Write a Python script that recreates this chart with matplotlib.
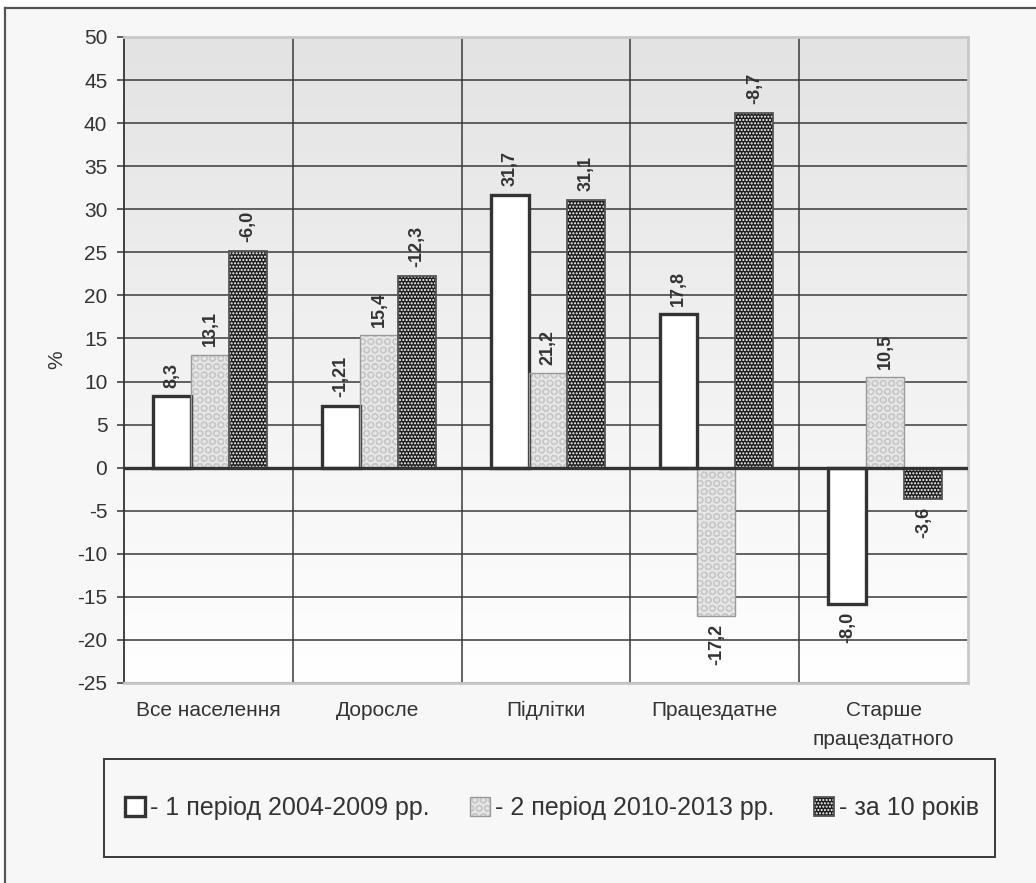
import numpy as np
import matplotlib.pyplot as plt
from matplotlib.colors import LinearSegmentedColormap
from matplotlib.patches import Rectangle, Patch
from matplotlib.lines import Line2D
from matplotlib.legend_handler import HandlerTuple

plt.rcParams['font.family'] = ['Liberation Sans', 'DejaVu Sans']
plt.rcParams['axes.unicode_minus'] = False

groups = ['Все населення', 'Доросле', 'Підлітки', 'Працездатне',
          'Старше\nпрацездатного']
period1 = [8.3, 7.2, 31.7, 17.8, -15.8]
period2 = [13.1, 15.4, 11.0, -17.2, 10.5]
decade = [25.2, 22.3, 31.1, 41.2, -3.6]

# printed values over the bars
period1_txt = ['8,3', '-1,21', '31,7', '17,8', '-8,0']
period2_txt = ['13,1', '15,4', '21,2', '-17,2', '10,5']
decade_txt = ['-6,0', '-12,3', '31,1', '-8,7', '-3,6']

names = ['- 1 період 2004-2009 рр.', '- 2 період 2010-2013 рр.', '- за 10 років']

TXT = '#333333'
W, H = 1036, 883

fig = plt.figure(figsize=(W / 100, H / 100), dpi=100, facecolor='white')

# grey sheet with a dark frame on the left and top
fig.add_artist(Rectangle((5 / W, 0), 1, 1 - 8 / H, transform=fig.transFigure,
                         facecolor='#f7f7f7', edgecolor='none', zorder=-5))
fig.add_artist(Line2D([5 / W, 1], [1 - 8 / H] * 2, transform=fig.transFigure,
                      color='#555555', lw=1.6))
fig.add_artist(Line2D([5 / W] * 2, [0, 1 - 8 / H], transform=fig.transFigure,
                      color='#555555', lw=1.6))

ax = fig.add_axes([124 / W, 1 - 683 / H, 844 / W, 646 / H])
ax.set_facecolor('none')

# vertical grey gradient of the plotting area
grad = LinearSegmentedColormap.from_list('bg', ['#ffffff', '#e3e3e3'])
ax.imshow(np.linspace(0, 1, 256).reshape(-1, 1), extent=(-0.5, 4.5, -25, 50),
          origin='lower', aspect='auto', cmap=grad, zorder=0)

ax.set_xlim(-0.5, 4.5)
ax.set_ylim(-25, 50)
ax.set_yticks(np.arange(-25, 51, 5))
ax.yaxis.grid(True, color='#3a3a3a', lw=1.1, zorder=1)
ax.set_axisbelow(True)
ax.vlines(np.arange(0.5, 4.5, 1), -25, 50, color='#3a3a3a', lw=1.1, zorder=1)

x = np.arange(len(groups))
w = 0.225
styles = [
    # fill, hatch, hatch colour, hatch width, outline, outline width
    ('white', None, 'white', 1.0, '#333333', 2.4),
    ('#e6e6e6', 'OO', '#c8c8c8', 0.9, '#9a9a9a', 1.0),
    ('#1e1e1e', '.....', 'white', 1.0, '#555555', 1.3),
]
series = [period1, period2, decade]
texts = [period1_txt, period2_txt, decade_txt]
handles = []
for i, (vals, labs, st) in enumerate(zip(series, texts, styles)):
    fc, hatch, hc, hlw, ec, elw = st
    pos = x + (i - 1) * w + 0.01
    with plt.rc_context({'hatch.linewidth': hlw}):
        ax.bar(pos, vals, w, color=fc, hatch=hatch, edgecolor=hc, lw=0, zorder=3)
        fill = Patch(facecolor=fc, hatch=hatch, edgecolor=hc, lw=0)
    ax.bar(pos, vals, w, fill=False, edgecolor=ec, lw=elw, zorder=4)
    outline = Patch(fill=False, edgecolor=ec, lw=elw)
    handles.append((fill, outline))
    for xp, v, s in zip(pos, vals, labs):
        up = v >= 0
        ax.annotate(s, (xp, v), xytext=(0, 6 if up else -6),
                    textcoords='offset points', rotation=90, ha='center',
                    va='bottom' if up else 'top', fontsize=13,
                    fontweight='bold', color=TXT, zorder=5)

ax.axhline(0, color='#333333', lw=2.4, zorder=4)

for side in ('top', 'right', 'bottom'):
    ax.spines[side].set_color('#c8c8c8')
    ax.spines[side].set_linewidth(2)
ax.spines['left'].set_color('#333333')
ax.spines['left'].set_linewidth(1.3)

ax.set_xticks(x)
ax.set_xticklabels(groups)
for t in ax.get_xticklabels():
    t.set_linespacing(1.65)
ax.tick_params(axis='x', length=0, pad=13, labelsize=15, labelcolor=TXT)
ax.tick_params(axis='y', direction='out', length=5, width=1.1, color='#333333',
               pad=7, labelsize=15, labelcolor=TXT)
ax.set_ylabel('%', fontsize=15, color=TXT, labelpad=8)

# legend in its own rectangular box
fig.add_artist(Rectangle((104 / W, 1 - 857 / H), 891 / W, 98 / H,
                         transform=fig.transFigure, facecolor='none',
                         edgecolor='#3a3a3a', lw=1.4))
fig.legend(handles, names, loc='center', ncol=3,
           bbox_to_anchor=(552 / W, 1 - 808 / H), frameon=False,
           fontsize=18, labelcolor=TXT, handlelength=0.8, handleheight=0.8,
           handletextpad=0.2, columnspacing=1.6,
           handler_map={tuple: HandlerTuple(ndivide=1, pad=0)})

fig.savefig('out.png', dpi=100)
